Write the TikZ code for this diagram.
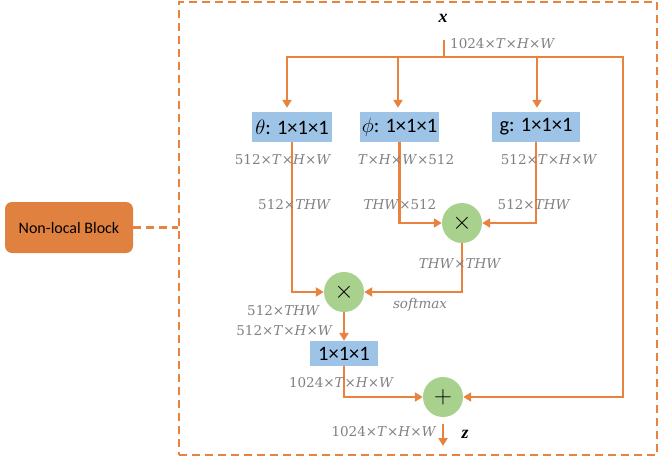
\documentclass[tikz,border=0pt]{standalone}
\usepackage[no-math]{fontspec}
\setmainfont{Carlito}
\newfontfamily\serifvar{Liberation Serif}
\newfontfamily\dimf{DejaVu Serif}
\newcommand{\myT}{\textit{T}}
\newcommand{\myH}{\textit{H}}
\newcommand{\myW}{\textit{W}}
\newcommand{\myTHW}{\textit{THW}}
\usetikzlibrary{arrows.meta}
\definecolor{orng}{HTML}{E8833F}
\definecolor{nlfill}{HTML}{E0813F}
\definecolor{bluebox}{HTML}{9DC3E6}
\definecolor{greenc}{HTML}{A9D18E}
\definecolor{graytxt}{HTML}{808080}
\begin{document}
\begin{tikzpicture}[x=1pt,y=-1pt,
  conn/.style={draw=orng,line width=2.4pt},
  arr/.style={conn,-{Triangle[length=8pt,width=9pt]}},
  opbox/.style={rectangle,fill=bluebox,minimum height=30pt,inner sep=0pt,font=\fontsize{20.5}{23}\selectfont},
  opcirc/.style={circle,fill=greenc,minimum size=40pt,inner sep=0pt,font=\fontsize{24}{26}\selectfont},
  dim/.style={text=graytxt,inner sep=0pt,font=\fontsize{13.5}{16}\selectfont\dimf},
  var/.style={inner sep=0pt,font=\fontsize{18}{20}\selectfont\serifvar\bfseries\itshape},
  frm/.style={draw=orng,line width=2.4pt,dash pattern=on 8pt off 5pt}]
\useasboundingbox (0,0) rectangle (660,461);
% frame and block
\node[frm,minimum width=478pt,minimum height=453pt,inner sep=0pt] (frame) at (418,228.5) {};
\node[fill=nlfill,rounded corners=7pt,minimum width=128pt,minimum height=51pt,inner sep=0pt,font=\fontsize{16}{19}\selectfont] (nl) at (69,227.5) {Non-local Block};
\draw[frm] (nl.east) -- (nl.east -| frame.west);
% operators
\node[opbox,minimum width=80pt] (theta) at (292,127) {$\theta$: 1×1×1};
\node[opbox,minimum width=79pt] (phi) at (399.5,127) {$\phi$: 1×1×1};
\node[opbox,minimum width=88pt] (g) at (536,127) {g: 1×1×1};
\node[opbox,minimum width=68pt,minimum height=25pt] (conv) at (344,353.5) {1×1×1};
\node[opcirc] (mul1) at (462,223) {$\times$};
\node[opcirc] (mul2) at (344,292) {$\times$};
\node[opcirc] (add) at (443,397) {$+$};
\node[var] (xin) at (443,18) {x};
\node[var] (zout) at (465,434) {z};
% connectors
\coordinate (xs) at (444,40);
\coordinate (j) at (444,57);
\coordinate (rt) at (623,57);
\coordinate (rb) at (623,397);
\coordinate (zend) at (443,446);
\draw[conn] (xs) -- (j);
\draw[arr,shorten >=4pt] (j) -| ([xshift=-5pt]theta.north);
\draw[arr,shorten >=4pt] (j) -| ([xshift=-1.5pt]phi.north);
\draw[arr,shorten >=4pt] (j) -| ([xshift=1pt]g.north);
\draw[arr] (j) -- (rt) -- (rb) -- (add.east);
\draw[arr] (theta.south) |- (mul2.west);
\draw[arr] (phi.south) |- (mul1.west);
\draw[arr] (g.south) |- (mul1.east);
\draw[arr] (mul1.south) |- (mul2.east);
\draw[arr] (mul2.south) -- (conv.north);
\draw[arr] (conv.south) |- (add.west);
\draw[arr,shorten <=7pt] (add.south) -- (zend);
% dimension labels
\node[dim,anchor=west] (d0) at (450,44) {1024×\myT×\myH×\myW};
\node[dim] (d1) at (283,160) {512×\myT×\myH×\myW};
\node[dim] (d2) at (406,160) {\myT×\myH×\myW×512};
\node[dim] (d3) at (549,160) {512×\myT×\myH×\myW};
\node[dim] (d4) at (294.5,205) {512×\myTHW};
\node[dim] (d5) at (400,205) {\myTHW×512};
\node[dim] (d6) at (534,205) {512×\myTHW};
\node[dim] (d7) at (460,264) {\myTHW×\myTHW};
\node[dim,font=\fontsize{13.5}{16}\selectfont\dimf\itshape] (sm) at (420,305) {softmax};
\node[dim] (d8) at (283.5,311) {512×\myTHW};
\node[dim] (d9) at (284.5,331) {512×\myT×\myH×\myW};
\node[dim] (d10) at (341.5,383) {1024×\myT×\myH×\myW};
\node[dim] (d11) at (384,432) {1024×\myT×\myH×\myW};
\end{tikzpicture}
\end{document}
